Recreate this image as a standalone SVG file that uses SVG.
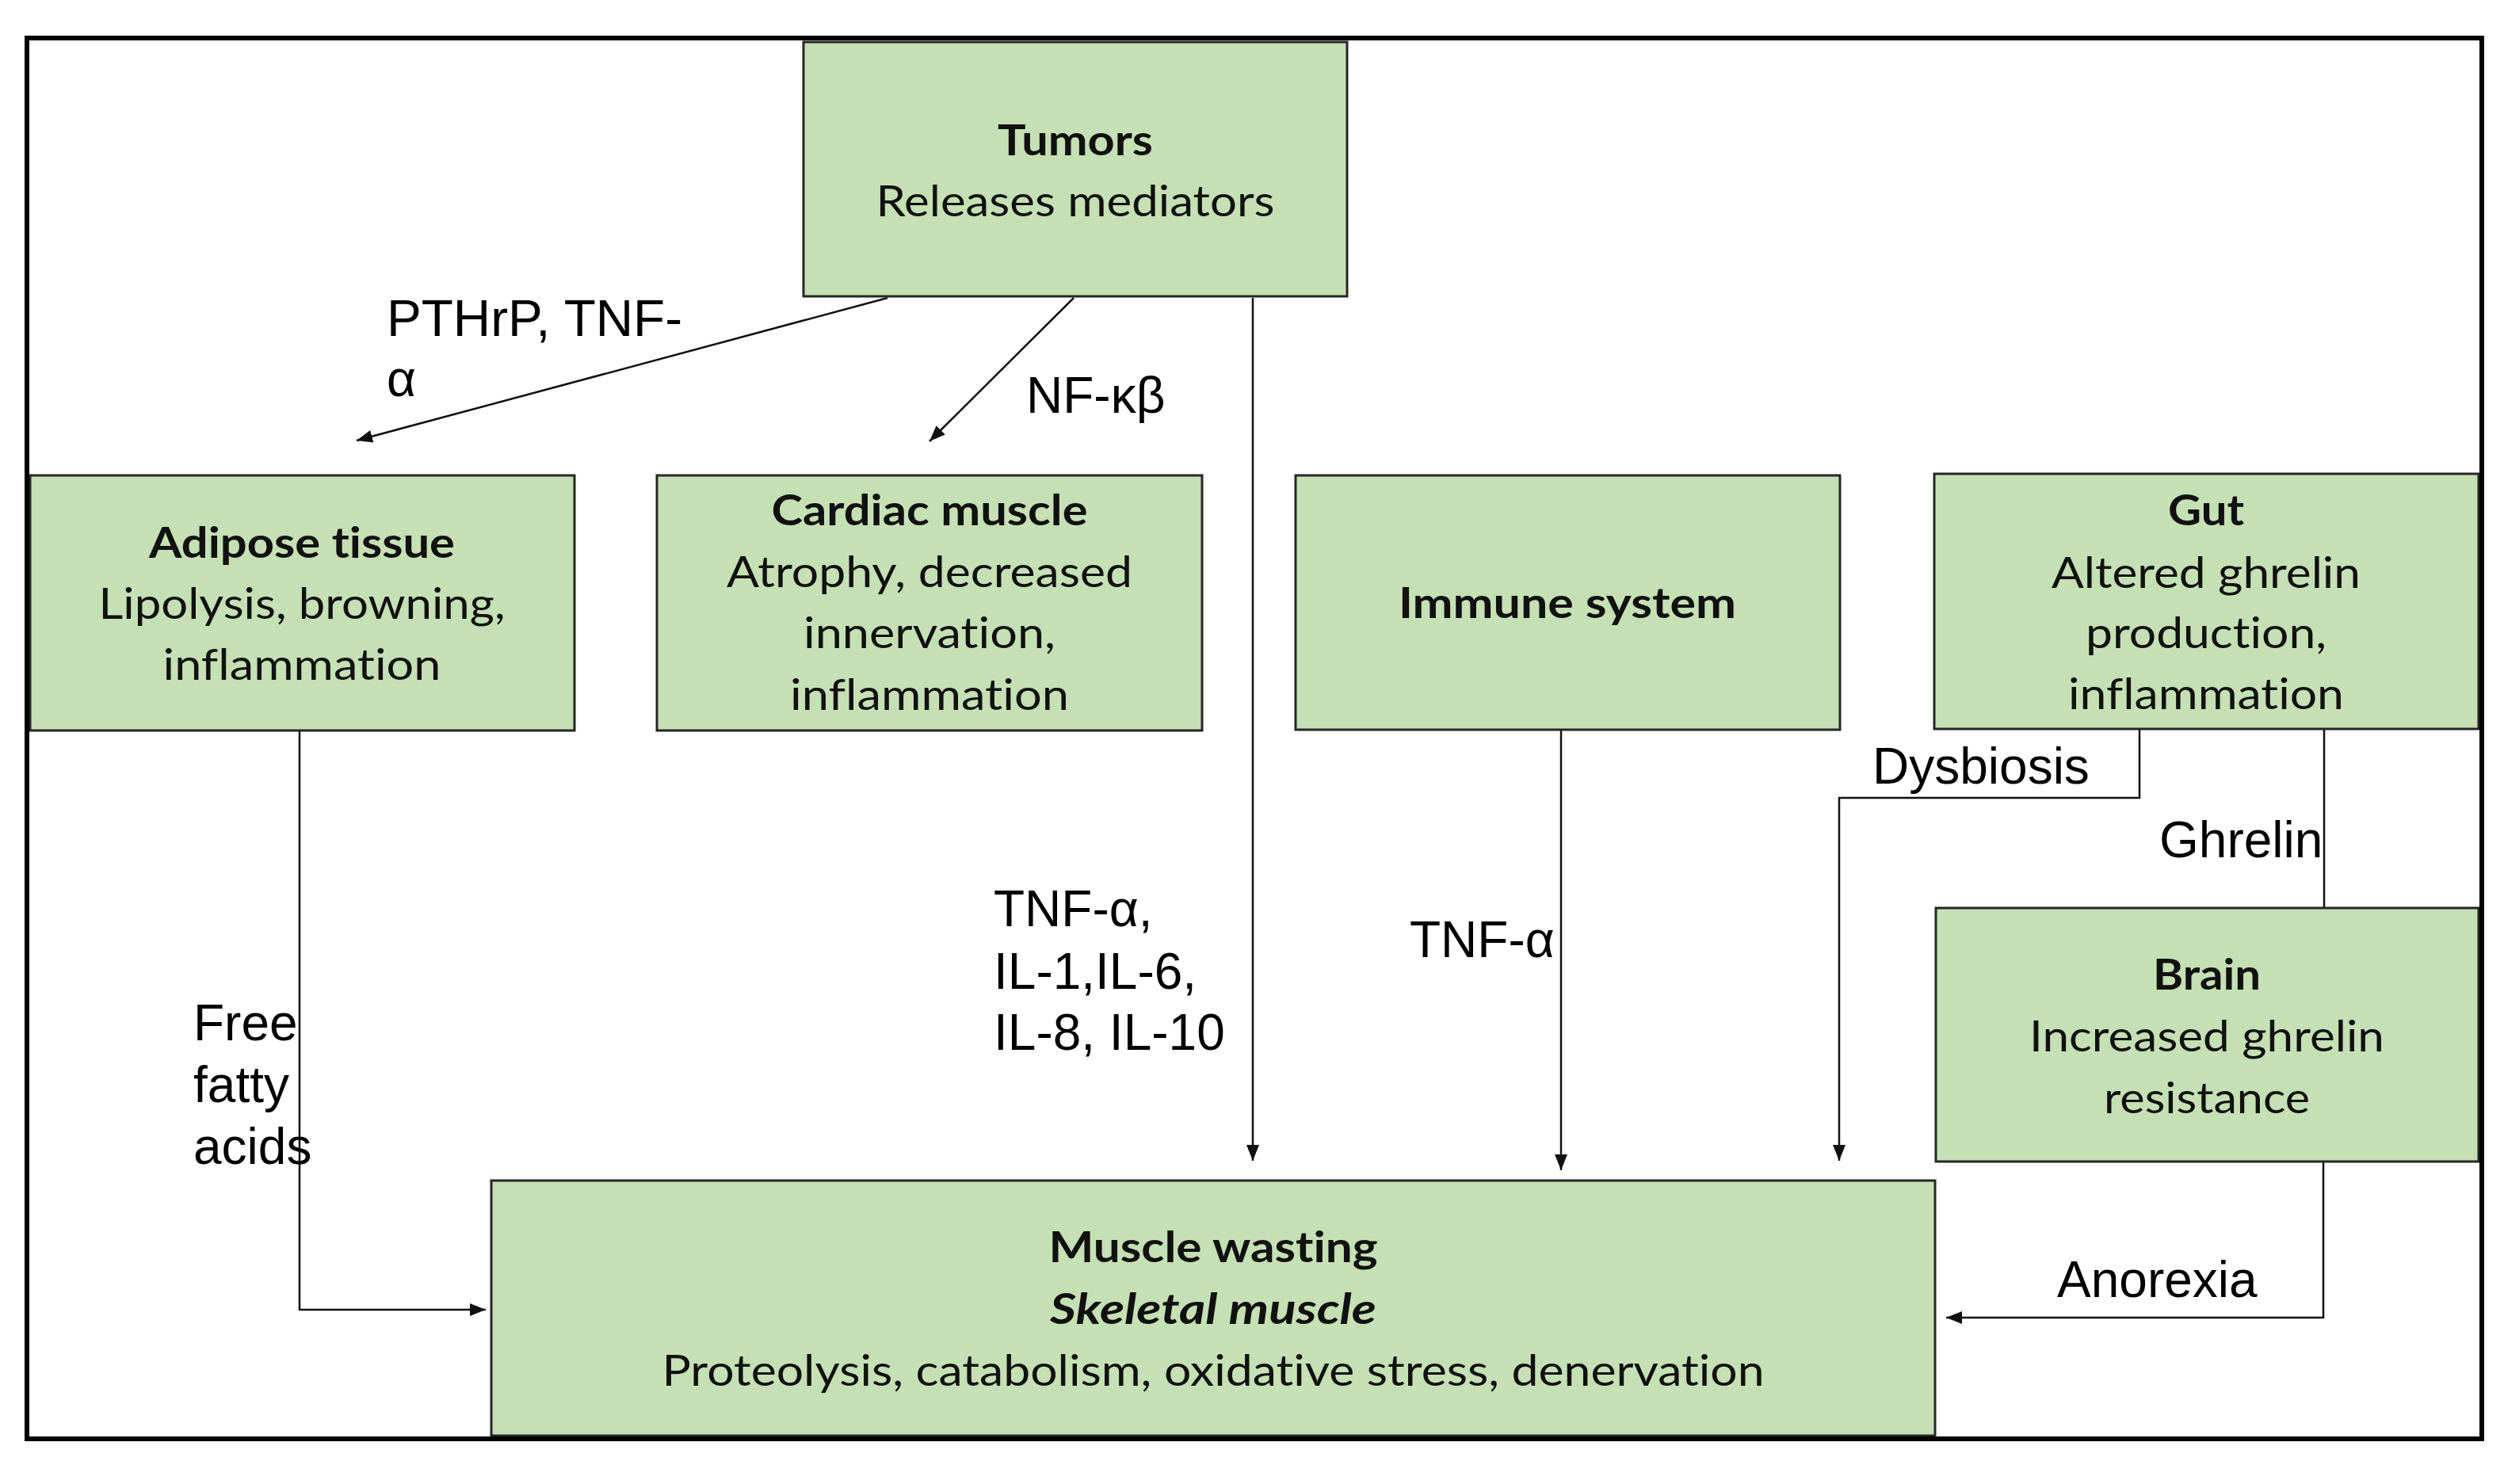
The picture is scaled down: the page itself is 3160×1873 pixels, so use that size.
<svg xmlns="http://www.w3.org/2000/svg" width="3160" height="1873" viewBox="0 0 3160 1873">
  <style>
    .box { fill: #c5e0b4; stroke: #262626; stroke-width: 3; }
    .t { font-family: Lato, "Open Sans", sans-serif; font-size: 54px; fill: #111; text-anchor: middle; font-variant-ligatures: none; font-feature-settings: "liga" 0, "clig" 0; }
    .b { font-weight: 700; }
    .bi { font-weight: 700; font-style: italic; }
    .lbl { font-family: "Liberation Sans", Arial, sans-serif; font-size: 64px; fill: #000; }
    .wire { fill: none; stroke: #111; stroke-width: 2.5; }
  </style>
  <defs>
    <marker id="arr" markerUnits="userSpaceOnUse" markerWidth="22" markerHeight="16" refX="20" refY="8" orient="auto">
      <path d="M0,0 L20,8 L0,16 z" fill="#111"/>
    </marker>
  </defs>

  <rect x="0" y="0" width="3160" height="1873" fill="#fff"/>

  <!-- connectors -->
  <g id="connectors">
    <line class="wire" x1="1120" y1="376" x2="450" y2="556" marker-end="url(#arr)"/>
    <line class="wire" x1="1355" y1="376" x2="1173" y2="557" marker-end="url(#arr)"/>
    <line class="wire" x1="1581" y1="376" x2="1581" y2="1465" marker-end="url(#arr)"/>
    <line class="wire" x1="1970" y1="921" x2="1970" y2="1477" marker-end="url(#arr)"/>
    <polyline class="wire" points="2700,920 2700,1007 2321,1007 2321,1465" marker-end="url(#arr)"/>
    <line class="wire" x1="2933" y1="920" x2="2933" y2="1146"/>
    <polyline class="wire" points="2932,1466 2932,1663 2456,1663" marker-end="url(#arr)"/>
    <polyline class="wire" points="378,922 378,1653 613,1653" marker-end="url(#arr)"/>

    <text class="lbl" x="488" y="424" font-size="58" textLength="373" lengthAdjust="spacingAndGlyphs">PTHrP, TNF-</text>
    <text class="lbl" x="488" y="500" font-size="58">α</text>
    <text class="lbl" x="1295" y="521">NF-κβ</text>
    <text class="lbl" x="1254" y="1169">TNF-α,</text>
    <text class="lbl" x="1254" y="1248">IL-1,IL-6,</text>
    <text class="lbl" x="1254" y="1325">IL-8, IL-10</text>
    <text class="lbl" x="1779" y="1208">TNF-α</text>
    <text class="lbl" x="2363" y="989">Dysbiosis</text>
    <text class="lbl" x="2725" y="1082">Ghrelin</text>
    <text class="lbl" x="2596" y="1637">Anorexia</text>
    <text class="lbl" x="244" y="1313">Free</text>
    <text class="lbl" x="244" y="1391">fatty</text>
    <text class="lbl" x="244" y="1469">acids</text>
  </g>

  <g id="tumors">
    <rect class="box" x="1014" y="53" width="686" height="321"/>
    <text class="t b" x="1357" y="196" textLength="196" lengthAdjust="spacingAndGlyphs">Tumors</text>
    <text class="t" x="1357" y="273" textLength="503" lengthAdjust="spacingAndGlyphs">Releases mediators</text>
  </g>

  <g id="adipose">
    <rect class="box" x="38" y="600" width="687" height="322"/>
    <text class="t b" x="381" y="704" textLength="386" lengthAdjust="spacingAndGlyphs">Adipose tissue</text>
    <text class="t" x="381" y="781" textLength="513" lengthAdjust="spacingAndGlyphs">Lipolysis, browning,</text>
    <text class="t" x="381" y="858" textLength="351" lengthAdjust="spacingAndGlyphs">inflammation</text>
  </g>

  <g id="cardiac">
    <rect class="box" x="829" y="600" width="688" height="322"/>
    <text class="t b" x="1173" y="663" textLength="399" lengthAdjust="spacingAndGlyphs">Cardiac muscle</text>
    <text class="t" x="1173" y="741" textLength="512" lengthAdjust="spacingAndGlyphs">Atrophy, decreased</text>
    <text class="t" x="1173" y="818" textLength="318" lengthAdjust="spacingAndGlyphs">innervation,</text>
    <text class="t" x="1173" y="896" textLength="352" lengthAdjust="spacingAndGlyphs">inflammation</text>
  </g>

  <g id="immune">
    <rect class="box" x="1635" y="600" width="687" height="321"/>
    <text class="t b" x="1978" y="780" textLength="426" lengthAdjust="spacingAndGlyphs">Immune system</text>
  </g>

  <g id="gut">
    <rect class="box" x="2441" y="598" width="687" height="322"/>
    <text class="t b" x="2784" y="663" textLength="96" lengthAdjust="spacingAndGlyphs">Gut</text>
    <text class="t" x="2784" y="742" textLength="390" lengthAdjust="spacingAndGlyphs">Altered ghrelin</text>
    <text class="t" x="2784" y="818" textLength="304" lengthAdjust="spacingAndGlyphs">production,</text>
    <text class="t" x="2784" y="895" textLength="348" lengthAdjust="spacingAndGlyphs">inflammation</text>
  </g>

  <g id="brain">
    <rect class="box" x="2443" y="1146" width="685" height="320"/>
    <text class="t b" x="2785" y="1249" textLength="136" lengthAdjust="spacingAndGlyphs">Brain</text>
    <text class="t" x="2785" y="1327" textLength="448" lengthAdjust="spacingAndGlyphs">Increased ghrelin</text>
    <text class="t" x="2785" y="1405" textLength="260" lengthAdjust="spacingAndGlyphs">resistance</text>
  </g>

  <g id="muscle">
    <rect class="box" x="620" y="1490" width="1822" height="322"/>
    <text class="t b" x="1531" y="1593" textLength="415" lengthAdjust="spacingAndGlyphs">Muscle wasting</text>
    <text class="t bi" x="1531" y="1671" textLength="412" lengthAdjust="spacingAndGlyphs">Skeletal muscle</text>
    <text class="t" x="1531" y="1749" textLength="1391" lengthAdjust="spacingAndGlyphs">Proteolysis, catabolism, oxidative stress, denervation</text>
  </g>

  <!-- outer frame -->
  <rect x="34" y="48" width="3098" height="1768" fill="none" stroke="#000" stroke-width="6"/>
</svg>
